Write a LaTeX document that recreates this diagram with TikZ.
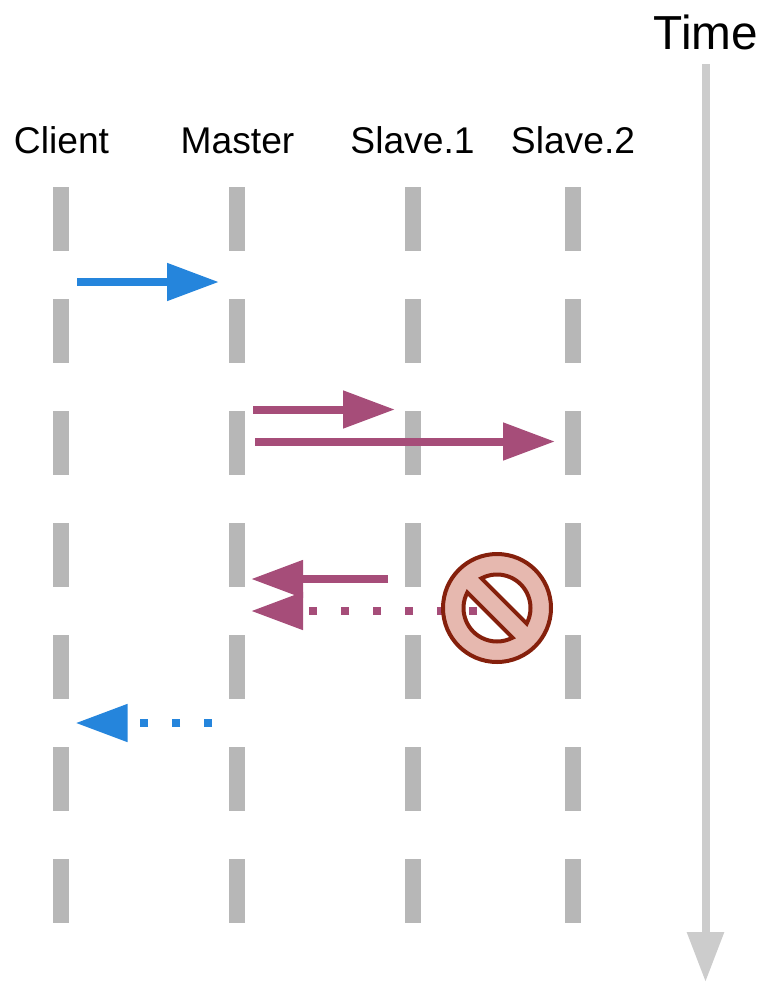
\documentclass[tikz,border=0pt]{standalone}
\usepackage{fontspec}
\setmainfont{Liberation Sans}
\usetikzlibrary{arrows.meta}
\definecolor{lifegray}{HTML}{B7B7B7}
\definecolor{timegray}{HTML}{CCCCCC}
\definecolor{msgblue}{HTML}{2585DC}
\definecolor{msgpurple}{HTML}{A64D79}
\definecolor{stopfill}{HTML}{E6B8AF}
\definecolor{stopline}{HTML}{85200C}
\tikzset{
  x=0.75pt,y=-0.75pt,
  lifeline/.style={draw=lifegray,line width=12pt,dash pattern=on 48pt off 36pt},
  msg/.style={line width=6pt,-{Triangle[length=39pt,width=27pt]}},
  dotmsg/.style={msg,dash pattern=on 6pt off 18pt},
  actor/.style={font=\fontsize{27.9pt}{32pt}\selectfont,text=black,inner sep=0pt,anchor=base},
  timelabel/.style={font=\fontsize{35.8pt}{40pt}\selectfont,text=black,inner sep=0pt,anchor=base},
  timeline/.style={draw=timegray,line width=6pt,-{Triangle[length=37.5pt,width=26.5pt]}},
  stopsign/.style={draw=stopline,fill=stopfill,line width=3pt,even odd rule},
}
\begin{document}
\begin{tikzpicture}
\useasboundingbox (0,0) rectangle (762,982);
% labels
\node[actor] (client) at (61.5,153) {Client};
\node[actor] (master) at (237.5,153) {Master};
\node[actor] (slaveone) at (412.5,153) {Slave.1};
\node[actor] (slavetwo) at (573,153) {Slave.2};
\node[timelabel] (time) at (706,49) {Time};
% lifeline ends
\foreach \n/\x in {c/61,m/237,a/413,b/573}{
  \coordinate (\n top) at (\x,187);
  \coordinate (\n bot) at (\x,923);
  \draw[lifeline] (\n top) -- (\n bot);
}
% time axis
\coordinate (ttop) at (705.5,64);
\coordinate (tbot) at (705.5,982);
\draw[timeline] (ttop) -- (tbot);
% messages
\coordinate (m1s) at (77,282);   \coordinate (m1e) at (219,282);
\coordinate (m2s) at (253,409.5);\coordinate (m2e) at (395,409.5);
\coordinate (m3s) at (255,441.5);\coordinate (m3e) at (555,441.5);
\coordinate (m4s) at (388,579);  \coordinate (m4e) at (251,579);
\coordinate (m5s) at (477,611);  \coordinate (m5e) at (251,611);
\coordinate (m6s) at (212,723);  \coordinate (m6e) at (75.5,723);
\draw[msg,draw=msgblue] (m1s) -- (m1e);
\draw[msg,draw=msgpurple] (m2s) -- (m2e);
\draw[msg,draw=msgpurple] (m3s) -- (m3e);
\draw[msg,draw=msgpurple] (m4s) -- (m4e);
\draw[dotmsg,draw=msgpurple] (m5s) -- (m5e);
\draw[dotmsg,draw=msgblue] (m6s) -- (m6e);
% prohibition sign
\begin{scope}[shift={(497,608)},yscale=-1]
  \path[stopsign] (0,0) circle[radius=54]
    (117.6:33.5) arc[start angle=117.6,end angle=-27.6,radius=33.5] -- cycle
    (152.4:33.5) arc[start angle=152.4,end angle=297.6,radius=33.5] -- cycle;
\end{scope}
\end{tikzpicture}
\end{document}
